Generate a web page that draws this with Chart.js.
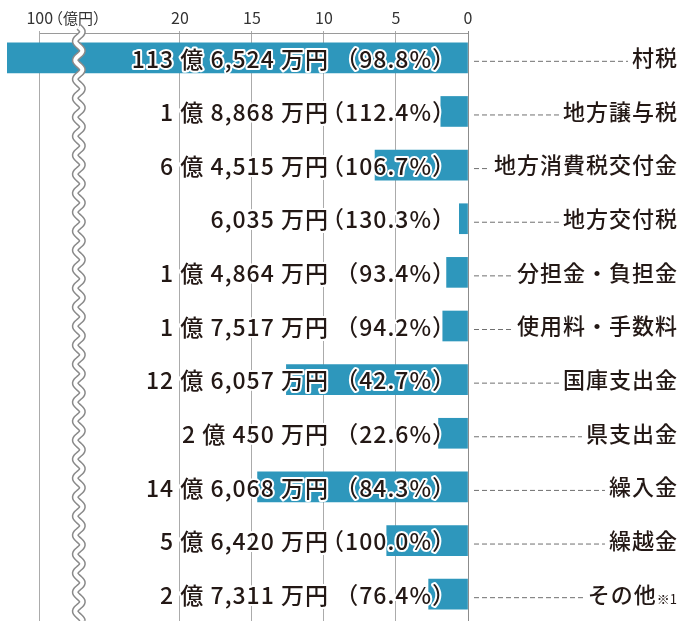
<!DOCTYPE html>
<html lang="ja">
<head>
<meta charset="utf-8">
<script src="https://cdn.jsdelivr.net/npm/chart.js@4"></script>
<style>
  html, body { margin: 0; padding: 0; background: #fff; }
  #wrap { width: 680px; height: 621px; position: relative; }
</style>
</head>
<body>
<div id="wrap"><canvas id="revenueChart"></canvas></div>
<script>
// categories (right side)
const categories = ['村税', '地方譲与税', '地方消費税交付金', '地方交付税', '分担金・負担金',
  '使用料・手数料', '国庫支出金', '県支出金', '繰入金', '繰越金', 'その他'];
const categoryNotes = ['', '', '', '', '', '', '', '', '', '', '※1'];

// amounts in 億円
const amounts = [113.6524, 1.8868, 6.4515, 0.6035, 1.4864, 1.7517, 12.6057, 2.0450, 14.6068, 5.6420, 2.7311];

// ratio vs previous year (%)
const ratios = [98.8, 112.4, 106.7, 130.3, 93.4, 94.2, 42.7, 22.6, 84.3, 100.0, 76.4];

// axis ticks (億円)
const tickValues = [0, 5, 10, 15, 20, 100];

// broken axis: linear up to BREAK_AT, squeezed up to 100, anything past runs off the edge
const BREAK_AT = 25;
const SQUEEZE = 0.063;
const AXIS_MAX = 32;
function toAxis(v) {
  if (v <= BREAK_AT) return v;
  if (v <= 100) return BREAK_AT + (v - BREAK_AT) * SQUEEZE;
  return AXIS_MAX;
}

function amountText(v) {
  const oku = Math.floor(v);
  const man = Math.round((v - oku) * 10000);
  const manStr = man.toLocaleString('en-US') + ' 万円';
  return oku > 0 ? oku + ' 億 ' + manStr : manStr;
}

const BAR_COLOR = '#2e97bc';
const TEXT_COLOR = '#231815';
const JP_FONT = '"Noto Sans CJK JP", "Noto Sans", sans-serif';

// draws tick labels, value labels, leader lines, category names and the break mark
const decorPlugin = {
  id: 'decor',
  afterDatasetsDraw(chart) {
    const ctx = chart.ctx;
    const x = chart.scales.x;
    const y = chart.scales.y;
    const area = chart.chartArea;

    // top border from 100 to 0
    ctx.save();
    ctx.strokeStyle = '#9a9a9a';
    ctx.lineWidth = 1;
    ctx.beginPath();
    ctx.moveTo(x.getPixelForValue(toAxis(100)), area.top + 2.5);
    ctx.lineTo(x.getPixelForValue(0), area.top + 2.5);
    ctx.stroke();

    // tick labels
    ctx.fillStyle = '#333';
    ctx.font = '16px ' + JP_FONT;
    ctx.textBaseline = 'middle';
    ctx.textAlign = 'center';
    tickValues.forEach(t => {
      const px = x.getPixelForValue(toAxis(t));
      ctx.fillText(String(t), px, 18);
      if (t === 100) {
        const w = ctx.measureText('100').width;
        ctx.textAlign = 'left';
        ctx.font = '15px ' + JP_FONT;
        ctx.fillText('（億円）', px + w / 2 - 5, 18);
        ctx.font = '16px ' + JP_FONT;
        ctx.textAlign = 'center';
      }
    });

    // value labels
    ctx.font = '500 23px ' + JP_FONT;
    ctx.letterSpacing = '1px';
    ctx.lineJoin = 'round';
    ctx.textAlign = 'right';
    amounts.forEach((v, i) => {
      const py = y.getPixelForValue(i) + 1;
      const items = [
        [amountText(v), area.right - 139],
        ['（' + ratios[i].toFixed(1) + '%）', area.right - 12]
      ];
      items.forEach(([txt, px]) => {
        ctx.strokeStyle = '#fff';
        ctx.lineWidth = 4;
        ctx.strokeText(txt, px, py);
        ctx.fillStyle = TEXT_COLOR;
        ctx.fillText(txt, px, py);
      });
    });
    ctx.letterSpacing = '0px';

    // category names + dashed leaders
    const labelRight = 677;
    categories.forEach((name, i) => {
      const py = y.getPixelForValue(i);
      let right = labelRight;
      if (categoryNotes[i]) {
        ctx.font = '13px ' + JP_FONT;
        ctx.textAlign = 'right';
        ctx.fillStyle = TEXT_COLOR;
        ctx.fillText(categoryNotes[i], labelRight, py + 5);
        right = labelRight - ctx.measureText(categoryNotes[i]).width - 1;
      }
      ctx.font = '500 22px ' + JP_FONT;
      ctx.letterSpacing = '1px';
      ctx.textAlign = 'right';
      ctx.fillStyle = TEXT_COLOR;
      ctx.fillText(name, right + 1, py);
      const start = right - ctx.measureText(name).width - 3;
      ctx.letterSpacing = '0px';

      ctx.strokeStyle = '#707070';
      ctx.lineWidth = 1;
      ctx.setLineDash([5, 3]);
      ctx.beginPath();
      ctx.moveTo(area.right + 6, py + 3.5);
      ctx.lineTo(start, py + 3.5);
      ctx.stroke();
      ctx.setLineDash([]);
    });
    ctx.restore();
  },
  afterDraw(chart) {
    // wavy break mark between 20 and 100
    const ctx = chart.ctx;
    const x = chart.scales.x;
    const cx = (x.getPixelForValue(toAxis(100)) + x.getPixelForValue(20)) / 2 - 31;
    ctx.save();
    const wave = () => {
      ctx.beginPath();
      for (let py = 27; py <= chart.height; py += 1) {
        const px = cx + 3.5 * Math.sin((py - 27) / 19 * Math.PI * 2);
        if (py === 27) ctx.moveTo(px, py); else ctx.lineTo(px, py);
      }
    };
    wave();
    ctx.strokeStyle = '#8a8a8a';
    ctx.lineWidth = 7;
    ctx.stroke();
    wave();
    ctx.strokeStyle = '#fff';
    ctx.lineWidth = 4;
    ctx.stroke();
    ctx.restore();
  }
};

const ctxBar = document.getElementById('revenueChart');

new Chart(ctxBar, {
  type: 'bar',
  data: {
    labels: categories,
    datasets: [{
      data: amounts.map(toAxis),
      backgroundColor: BAR_COLOR,
      barThickness: 30
    }]
  },
  options: {
    indexAxis: 'y',
    responsive: true,
    maintainAspectRatio: false,
    animation: false,
    layout: {
      padding: { top: 31, bottom: -9, left: 7, right: 212 }
    },
    plugins: {
      legend: { display: false },
      tooltip: { enabled: false }
    },
    scales: {
      x: {
        type: 'linear',
        position: 'top',
        reverse: true,
        min: 0,
        max: AXIS_MAX,
        afterBuildTicks: scale => {
          scale.ticks = tickValues.map(t => ({ value: toAxis(t) }));
        },
        ticks: { display: false },
        border: { display: false },
        grid: {
          drawTicks: false,
          color: ctx => (ctx.tick && ctx.tick.value === 0 ? '#8c8c8c' : '#ababab'),
          lineWidth: 1
        }
      },
      y: {
        display: false
      }
    }
  },
  plugins: [decorPlugin]
});
</script>
</body>
</html>
